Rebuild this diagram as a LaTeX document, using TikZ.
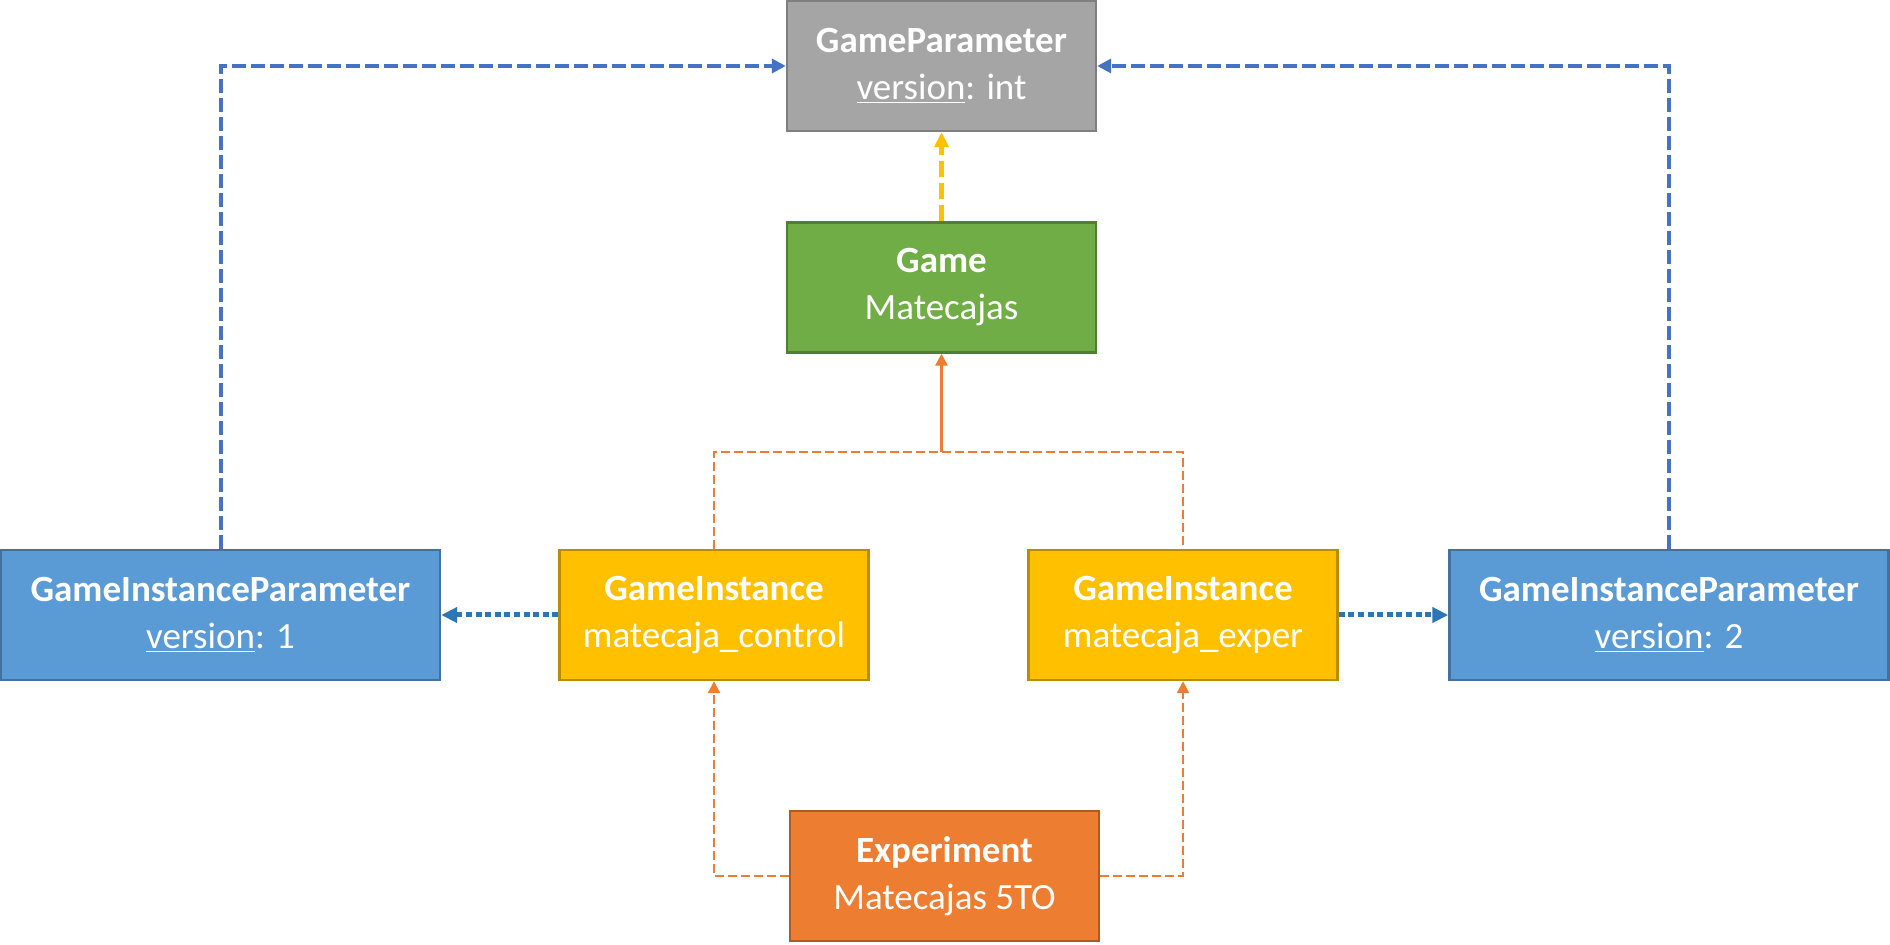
\documentclass[tikz,border=0pt]{standalone}
\usepackage{fontspec}
\setmainfont{Carlito}
\usetikzlibrary{arrows.meta}
\definecolor{gpfill}{HTML}{A5A5A5}\definecolor{gpdraw}{HTML}{7F7F7F}
\definecolor{gfill}{HTML}{70AD47}\definecolor{gdraw}{HTML}{507E32}
\definecolor{yfill}{HTML}{FFC000}\definecolor{ydraw}{HTML}{BC8C00}
\definecolor{bfill}{HTML}{5B9BD5}\definecolor{bdraw}{HTML}{41719C}
\definecolor{ofill}{HTML}{ED7D31}\definecolor{odraw}{HTML}{AE5A21}
\definecolor{bline}{HTML}{4472C4}\definecolor{dline}{HTML}{2E75B6}
\newcommand{\ul}[1]{\underline{#1}}
\tikzset{
  box/.style={draw, line width=1.2pt, text=white, align=center, inner sep=0pt,
    font=\fontsize{18.5}{23.5}\selectfont, minimum height=65pt},
  narrow/.style={minimum width=154.5pt},
  wide/.style={minimum width=219.5pt},
  bluedash/.style={draw=bline, line width=2pt, dash pattern=on 7pt off 2.5pt, -{Triangle[length=7pt,width=7pt]}},
  bluedot/.style={draw=dline, line width=2.5pt, dash pattern=on 3pt off 1.8pt, -{Triangle[length=8pt,width=7.5pt]}},
  yelldash/.style={draw=yfill, line width=2.2pt, dash pattern=on 8pt off 3pt, -{Triangle[length=7.5pt,width=7pt]}},
  orsolid/.style={draw=ofill, line width=1.5pt, -{Triangle[length=6pt,width=6pt]}},
  ordash/.style={draw=ofill, line width=1.1pt, dash pattern=on 4.5pt off 2pt},
}
\begin{document}
\begin{tikzpicture}[x=0.5pt,y=-0.5pt]
\useasboundingbox (0,0) rectangle (1890,945);
\node[box,narrow,fill=gpfill,draw=gpdraw] (gp) at (941.5,66) {\bfseries GameParameter\\\ul{version}: int};
\node[box,narrow,fill=gfill,draw=gdraw] (game) at (941.5,287.5) {\bfseries Game\\Matecajas};
\node[box,wide,fill=bfill,draw=bdraw] (gipl) at (220.5,615) {\bfseries GameInstanceParameter\\\ul{version}: 1};
\node[box,narrow,fill=yfill,draw=ydraw] (gic) at (714,615) {\bfseries GameInstance\\matecaja\_control};
\node[box,narrow,fill=yfill,draw=ydraw] (gie) at (1183,615) {\bfseries GameInstance\\matecaja\_exper};
\node[box,wide,fill=bfill,draw=bdraw] (gipr) at (1669,615) {\bfseries GameInstanceParameter\\\ul{version}: 2};
\node[box,narrow,fill=ofill,draw=odraw] (exp) at (944.5,876) {\bfseries Experiment\\Matecajas 5TO};
\coordinate (j) at (941.5,452);
\draw[bluedash] (gipl.north) |- (gp.west);
\draw[bluedash] (gipr.north) |- (gp.east);
\draw[yelldash] (game.north) -- (gp.south);
\draw[ordash] (gic.north) |- (j) -| (gie.north);
\draw[orsolid] (j) -- (game.south);
\draw[ordash,-{Triangle[length=6pt,width=6pt]}] (exp.west) -| (gic.south);
\draw[ordash,-{Triangle[length=6pt,width=6pt]}] (exp.east) -| (gie.south);
\draw[bluedot] (gic.west) -- (gipl.east);
\draw[bluedot] (gie.east) -- (gipr.west);
\end{tikzpicture}
\end{document}
